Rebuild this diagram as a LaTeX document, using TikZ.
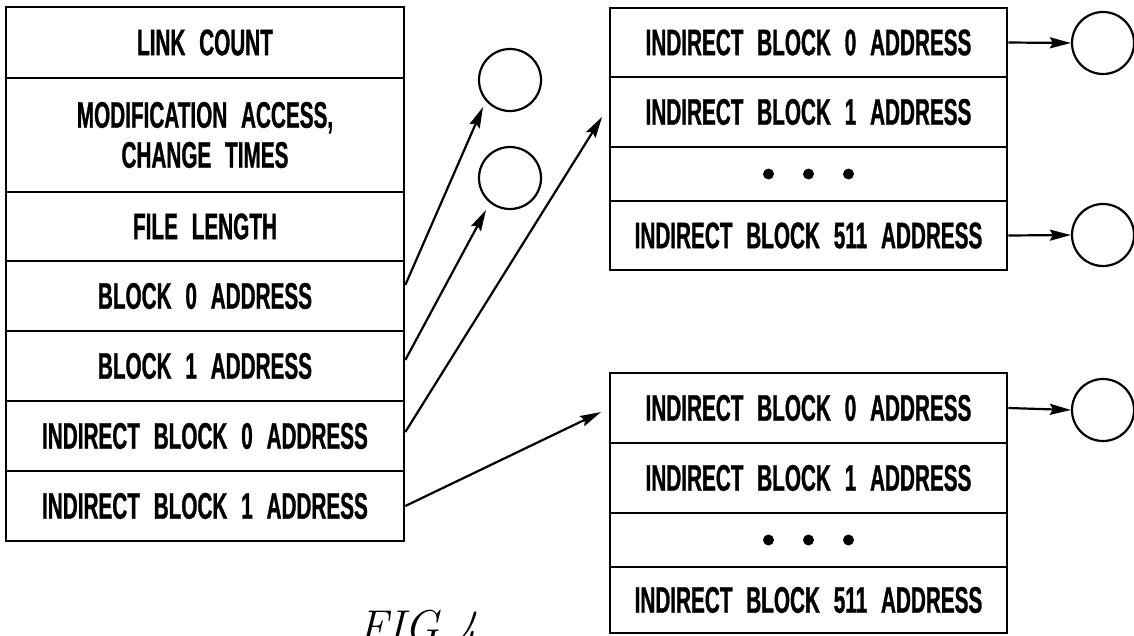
\documentclass[tikz,border=0pt]{standalone}
\usepackage{fontspec}
\newfontfamily\lett{Liberation Sans Bold}[FakeStretch=0.56,WordSpace=2.4,UprightFeatures={FakeBold=0.8}]
\usetikzlibrary{arrows.meta}
\begin{document}
\begin{tikzpicture}[x=1pt,y=-1pt,
  cell/.style={draw, line width=2.6pt, inner sep=0pt, minimum width=398pt,
    font=\lett\fontsize{37}{40}\selectfont, align=center},
  ring/.style={draw, circle, line width=2.2pt, minimum size=62pt, inner sep=0pt},
  arr/.style={line width=2.2pt, -{Stealth[length=21pt,width=11pt,inset=3pt]}},
  dotmark/.style={fill=black}]
\useasboundingbox (0,0) rectangle (1134,635);
\clip (0,0) rectangle (1134,635);
% left inode stack
\node[cell, minimum height=71pt] (L1) at (205,42.5) {LINK COUNT};
\node[cell, minimum height=114pt] (L2) at (205,135) {MODIFICATION ACCESS,\\CHANGE TIMES};
\node[cell, minimum height=69pt] (L3) at (205,226.5) {FILE LENGTH};
\node[cell, minimum height=70pt] (L4) at (205,296) {BLOCK 0 ADDRESS};
\node[cell, minimum height=70pt] (L5) at (205,366) {BLOCK 1 ADDRESS};
\node[cell, minimum height=70pt] (L6) at (205,436) {INDIRECT BLOCK 0 ADDRESS};
\node[cell, minimum height=70pt] (L7) at (205,506) {INDIRECT BLOCK 1 ADDRESS};
% top right indirect block
\node[cell, minimum width=397pt, minimum height=69pt] (A0) at (808.5,42.5) {INDIRECT BLOCK 0 ADDRESS};
\node[cell, minimum width=397pt, minimum height=70pt] (A1) at (808.5,112) {INDIRECT BLOCK 1 ADDRESS};
\node[cell, minimum width=397pt, minimum height=54pt] (A2) at (808.5,174) {};
\node[cell, minimum width=397pt, minimum height=69pt] (A3) at (808.5,235.5) {INDIRECT BLOCK 511 ADDRESS};
% bottom right indirect block
\node[cell, minimum width=397pt, minimum height=70pt] (B0) at (808.5,408) {INDIRECT BLOCK 0 ADDRESS};
\node[cell, minimum width=397pt, minimum height=70pt] (B1) at (808.5,478) {INDIRECT BLOCK 1 ADDRESS};
\node[cell, minimum width=397pt, minimum height=54pt] (B2) at (808.5,540) {};
\node[cell, minimum width=397pt, minimum height=66pt] (B3) at (808.5,600) {INDIRECT BLOCK 511 ADDRESS};
\foreach \dx in {-40,0,40} {
  \fill[dotmark] ([xshift=\dx pt]A2.center) circle (5.5pt);
  \fill[dotmark] ([xshift=\dx pt]B2.center) circle (5.5pt);
}
% data block circles
\node[ring] (c1) at (510,80) {};
\node[ring] (c2) at (510,178) {};
\node[ring] (c3) at (1103,43) {};
\node[ring] (c4) at (1103,235) {};
\node[ring] (c5) at (1103,410) {};
% arrow ends
\coordinate (t1) at (483,107);
\coordinate (t2) at (486,210);
\coordinate (t3) at (602,117);
\coordinate (t4) at (601,412);
\draw[arr] ([yshift=11pt]L4.east) -- (t1);
\draw[arr] ([yshift=6pt]L5.east) -- (t2);
\draw[arr] ([yshift=4pt]L6.east) -- (t3);
\draw[arr] (L7.east) -- (t4);
\draw[arr] (A0.east) -- (c3.west);
\draw[arr] (A3.east) -- (c4.west);
\draw[arr] (B0.east) -- (c5.west);
% caption
\node[anchor=base west, inner sep=0pt, font=\fontsize{46}{50}\selectfont\itshape] (fig) at (358,642) {FIG 4};
\end{tikzpicture}
\end{document}
